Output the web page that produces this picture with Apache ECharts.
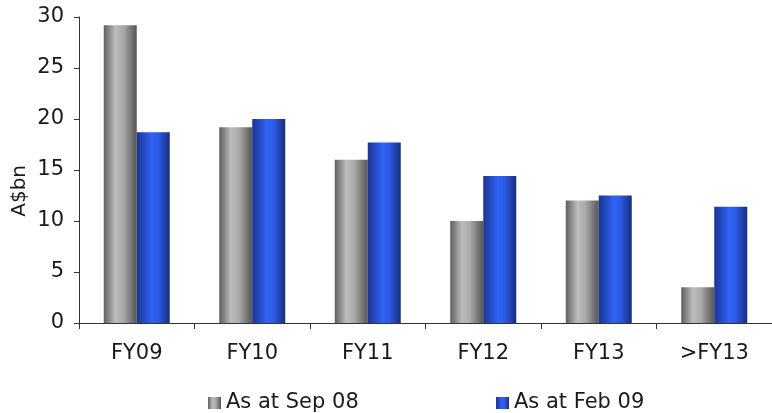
<!DOCTYPE html>
<html>
<head>
<meta charset="utf-8">
<script src="https://cdn.jsdelivr.net/npm/echarts@6/dist/echarts.min.js"></script>
<style>
  html, body { margin: 0; padding: 0; background: #fff; }
  #chart { width: 772px; height: 413px; }
</style>
</head>
<body>
<div id="chart"></div>
<script>
// Maturity profile by financial year, A$bn
const categories = ['FY09', 'FY10', 'FY11', 'FY12', 'FY13', '>FY13'];
const seriesNames = ['As at Sep 08', 'As at Feb 09'];
const sep08 = [29.2, 19.2, 16.0, 10.0, 12.0, 3.5];
const feb09 = [18.7, 20.0, 17.7, 14.4, 12.5, 11.4];
const yTicks = { min: 0, max: 30, interval: 5 };
const yTitle = 'A$bn';

const FONT = '"DejaVu Sans", Verdana, sans-serif';
const TEXT = '#1a1a1a';

// cylinder-like horizontal shading for each series
const greyFill = new echarts.graphic.LinearGradient(0, 0, 1, 0, [
  { offset: 0, color: '#5e5e5e' },
  { offset: 0.35, color: '#bcbcbc' },
  { offset: 0.6, color: '#a9a9a9' },
  { offset: 1, color: '#565656' }
]);
const blueFill = new echarts.graphic.LinearGradient(0, 0, 1, 0, [
  { offset: 0, color: '#1c3590' },
  { offset: 0.45, color: '#2f62f7' },
  { offset: 0.65, color: '#2c5be6' },
  { offset: 1, color: '#1a2d7c' }
]);

const chart = echarts.init(document.getElementById('chart'), null, { renderer: 'canvas' });

chart.setOption({
  animation: false,
  backgroundColor: '#ffffff',
  grid: { left: 79, right: 0, top: 17, bottom: 90, containLabel: false },
  legend: [
    {
      data: [seriesNames[0]],
      left: 203, top: 386,
      icon: 'rect', itemWidth: 13, itemHeight: 12,
      textStyle: { fontFamily: FONT, fontSize: 21, color: TEXT, lineHeight: 24 }
    },
    {
      data: [seriesNames[1]],
      left: 491, top: 386,
      icon: 'rect', itemWidth: 13, itemHeight: 12,
      textStyle: { fontFamily: FONT, fontSize: 21, color: TEXT, lineHeight: 24 }
    }
  ],
  xAxis: {
    type: 'category',
    data: categories,
    axisLine: { lineStyle: { color: '#333', width: 1 } },
    axisTick: { show: true, alignWithLabel: false, length: 6, lineStyle: { color: '#333' } },
    axisLabel: { margin: 20, fontFamily: FONT, fontSize: 21, color: TEXT }
  },
  yAxis: {
    type: 'value',
    min: yTicks.min, max: yTicks.max, interval: yTicks.interval,
    axisLine: { show: true, lineStyle: { color: '#333', width: 1 } },
    axisTick: { show: true, length: 5, lineStyle: { color: '#333' } },
    splitLine: { show: false },
    axisLabel: { margin: 15, fontFamily: FONT, fontSize: 21, color: TEXT }
  },
  graphic: [{
    type: 'text',
    left: 10, top: 165,
    rotation: Math.PI / 2,
    style: { text: yTitle, font: '20px ' + FONT, fill: TEXT }
  }],
  series: [
    {
      name: seriesNames[0], type: 'bar', data: sep08,
      barWidth: 33, barGap: '0%',
      itemStyle: { color: greyFill }
    },
    {
      name: seriesNames[1], type: 'bar', data: feb09,
      barWidth: 33, barGap: '0%',
      itemStyle: { color: blueFill }
    }
  ]
});
</script>
</body>
</html>
